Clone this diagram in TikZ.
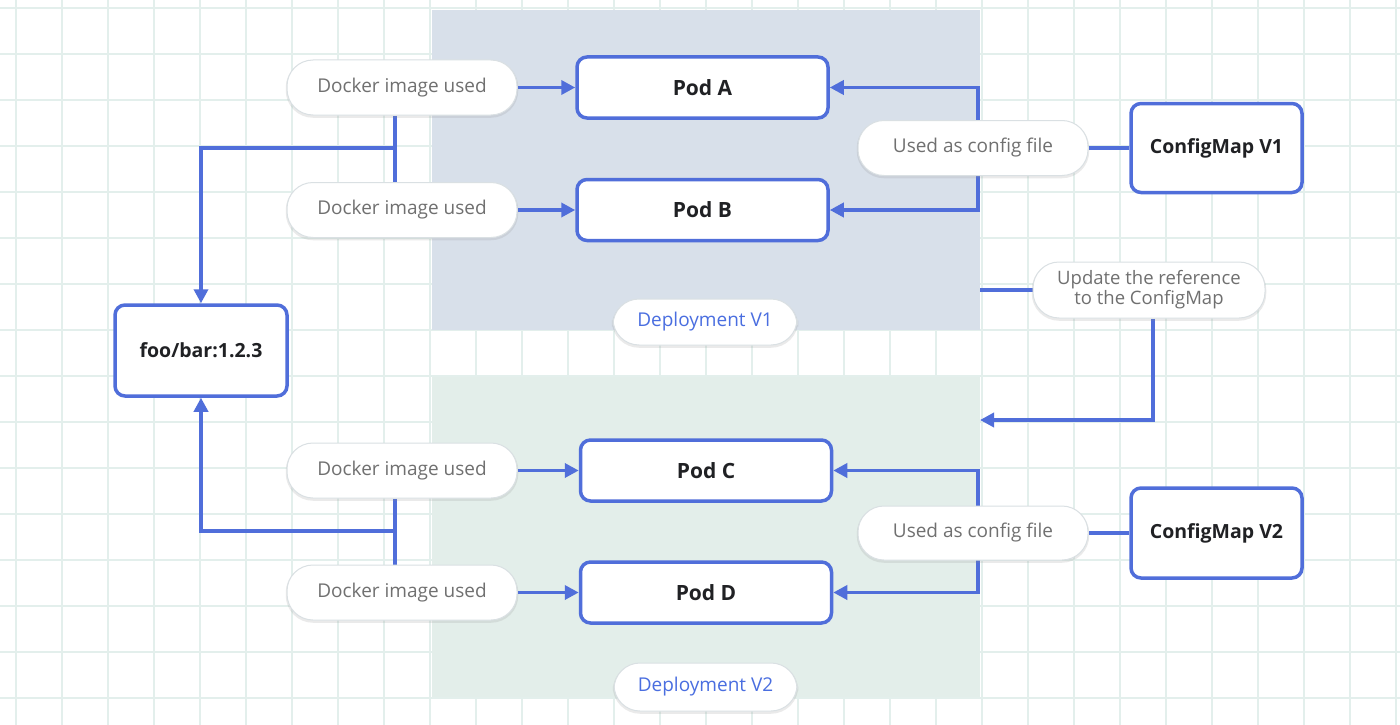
\documentclass[tikz,border=0pt]{standalone}
\usepackage{fontspec}
\setmainfont{Open Sans}
\usetikzlibrary{arrows.meta,backgrounds}
\definecolor{lineblue}{RGB}{80,110,218}
\definecolor{gridc}{RGB}{227,239,236}
\definecolor{depone}{RGB}{216,224,234}
\definecolor{deptwo}{RGB}{227,238,234}
\definecolor{pilltext}{RGB}{112,112,112}
\definecolor{pillborder}{RGB}{218,224,227}
\definecolor{deptext}{RGB}{74,110,224}
\definecolor{boxtext}{RGB}{32,33,36}
\pgfdeclarelayer{edges}
\pgfsetlayers{background,edges,main}
\tikzset{
  box/.style={draw=lineblue, line width=3.5pt, rounded corners=10pt, fill=white,
    text=boxtext, font=\fontsize{19.5}{23}\selectfont\bfseries, inner sep=0pt},
  pod/.style={box, font=\fontsize{21}{25}\selectfont\bfseries, minimum width=251pt, minimum height=61pt},
  pill/.style={draw=pillborder, line width=1pt, rounded corners=26pt, fill=white,
    text=pilltext, font=\fontsize{19}{22}\selectfont, inner sep=0pt,
    preaction={draw=black!45, line width=2.5pt, draw opacity=0.18, transform canvas={yshift=-1.5pt}}},
  region/.style={inner sep=0pt, draw=none},
  conn/.style={draw=lineblue, line width=3.5pt},
  arr/.style={conn, -{Triangle[length=14pt,width=14pt]}},
}
\begin{document}
\begin{tikzpicture}[x=1pt,y=-1pt]
\useasboundingbox (0,0) rectangle (1400,725);
\begin{scope}[on background layer]
  \fill[white] (0,0) rectangle (1400,725);
  \foreach \i in {0,...,30} {\draw[gridc, line width=1.6pt] ({16+46*\i},0) -- ({16+46*\i},725);}
  \foreach \j in {0,...,15} {\draw[gridc, line width=1.6pt] (0,{8+46*\j}) -- (1400,{8+46*\j});}
  \node[region, fill=depone, minimum width=548pt, minimum height=320pt] (dep1) at (706,170) {};
  \node[region, fill=deptwo, minimum width=548pt, minimum height=320pt] (dep2) at (706,537) {};
\end{scope}

% boxes
\node[pod] (podA) at (702.5,87.5) {Pod A};
\node[pod] (podB) at (702.5,210) {Pod B};
\node[pod] (podC) at (706,470.5) {Pod C};
\node[pod] (podD) at (706,592.5) {Pod D};
\node[box, minimum width=171pt, minimum height=89pt] (cm1) at (1216.5,148) {ConfigMap V1};
\node[box, minimum width=171pt, minimum height=90pt] (cm2) at (1216.5,533) {ConfigMap V2};
\node[box, minimum width=172pt, minimum height=91pt] (foo) at (201,350.5) {foo/bar:1.2.3};

% pills
\node[pill, minimum width=230pt, minimum height=55pt] (d1) at (402,87.5) {Docker image used};
\node[pill, minimum width=230pt, minimum height=55pt] (d2) at (402,210) {Docker image used};
\node[pill, minimum width=230pt, minimum height=55pt] (d3) at (402,470.5) {Docker image used};
\node[pill, minimum width=230pt, minimum height=55pt] (d4) at (402,592.5) {Docker image used};
\node[pill, minimum width=230pt, minimum height=55pt] (u1) at (973,148) {Used as config file};
\node[pill, minimum width=230pt, minimum height=54pt] (u2) at (973,533) {Used as config file};
\node[pill, minimum width=232pt, minimum height=56pt, align=center,
      font=\fontsize{18.5}{20}\selectfont] (upd) at (1149,290) {Update the reference\\to the ConfigMap};
\node[pill, minimum width=184pt, minimum height=46pt, text=deptext] (l1) at (705,322) {Deployment V1};
\node[pill, minimum width=183pt, minimum height=48pt, text=deptext] (l2) at (705.5,687) {Deployment V2};

\coordinate (j1) at (395,148);
\coordinate (j2) at (395,531);
\coordinate (c1) at (978,148);
\coordinate (c2) at (978,533);
\coordinate (t2) at (980,420);

\begin{pgfonlayer}{edges}
  \draw[arr] (d1.east) -- (podA.west);
  \draw[arr] (d2.east) -- (podB.west);
  \draw[arr] (d3.east) -- (podC.west);
  \draw[arr] (d4.east) -- (podD.west);
  \draw[conn] (d1.south -| j1) -- (d2.north -| j1);
  \draw[conn] (d3.south -| j2) -- (d4.north -| j2);
  \draw[arr] (j1) -| (foo.north);
  \draw[arr] (j2) -| (foo.south);
  \draw[conn] (cm1.west) -- (u1.east);
  \draw[conn] (cm2.west) -- (u2.east);
  \draw[arr] (c1) |- (podA.east);
  \draw[arr] (c1) |- (podB.east);
  \draw[arr] (c2) |- (podC.east);
  \draw[arr] (c2) |- (podD.east);
  \draw[conn] (upd.west -| dep1.east) -- (upd.west);
  \draw[arr] ([xshift=4pt]upd.south) |- (t2);
\end{pgfonlayer}
\end{tikzpicture}
\end{document}
